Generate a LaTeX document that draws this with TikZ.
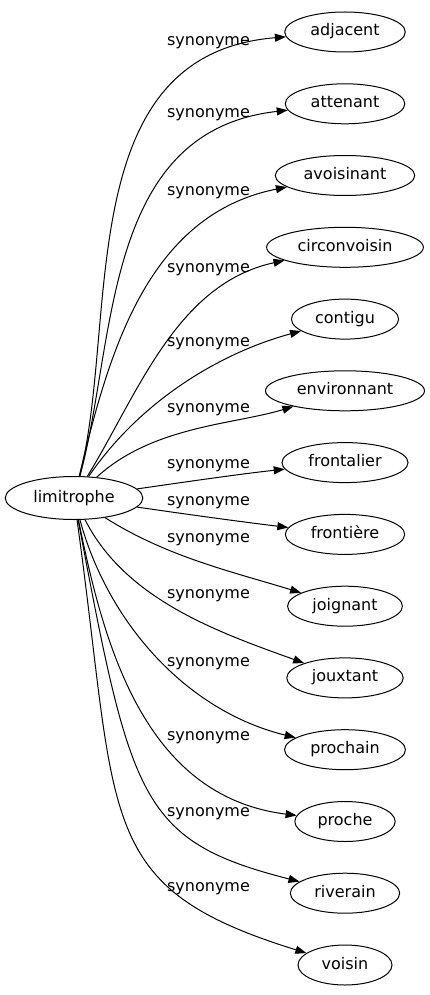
\documentclass[tikz,border=0pt]{standalone}
\usepackage{fontspec}
\setmainfont{DejaVu Sans}
\usetikzlibrary{arrows.meta,shapes.geometric}
\begin{document}
\begin{tikzpicture}[x=1pt,y=-1pt,
  every node/.style={font=\fontsize{16}{19}\selectfont},
  term/.style={draw, ellipse, line width=1pt, inner xsep=8pt, inner ysep=0pt,
    minimum height=40pt, text height=12pt, text depth=4pt},
  rel/.style={inner sep=0pt},
  link/.style={line width=1pt, -{Triangle[length=11pt,width=8pt]}}]
\useasboundingbox (0,0) rectangle (429,995);
\node[term, minimum height=43pt] (l) at (74,498) {limitrophe};
\node[term] (n1)  at (345,32)    {adjacent};
\node[term] (n2)  at (345,103.8) {attenant};
\node[term] (n3)  at (345,175.5) {avoisinant};
\node[term] (n4)  at (345,247.3) {circonvoisin};
\node[term] (n5)  at (345,319.1) {contigu};
\node[term] (n6)  at (345,390.8) {environnant};
\node[term] (n7)  at (345,462.6) {frontalier};
\node[term] (n8)  at (345,534.4) {frontière};
\node[term] (n9)  at (345,606.2) {joignant};
\node[term] (n10) at (345,677.9) {jouxtant};
\node[term] (n11) at (345,749.7) {prochain};
\node[term] (n12) at (345,821.5) {proche};
\node[term] (n13) at (345,893.2) {riverain};
\node[term, minimum width=94pt] (n14) at (345,965) {voisin};
\node[rel] (s1)  at (208.5,42.5)  {synonyme};
\node[rel] (s2)  at (208.5,115)   {synonyme};
\node[rel] (s3)  at (208.5,193)   {synonyme};
\node[rel] (s4)  at (208.5,269.5) {synonyme};
\node[rel] (s5)  at (208.5,343.5) {synonyme};
\node[rel] (s6)  at (208.5,410)   {synonyme};
\node[rel] (s7)  at (208.5,465.5) {synonyme};
\node[rel] (s8)  at (208.5,502.5) {synonyme};
\node[rel] (s9)  at (208.5,540)   {synonyme};
\node[rel] (s10) at (208.5,595.5) {synonyme};
\node[rel] (s11) at (208.5,664)   {synonyme};
\node[rel] (s12) at (208.5,738)   {synonyme};
\node[rel] (s13) at (208.5,814)   {synonyme};
\node[rel] (s14) at (208.5,888.5) {synonyme};
\draw[link] (l) .. controls (119,322) and (70,54.5) .. (n1);
\draw[link] (l) .. controls (116.5,341) and (102,131) .. (n2);
\draw[link] (l) .. controls (108,356) and (146,215) .. (n3);
\draw[link] (l) .. controls (138,394) and (176,284) .. (n4);
\draw[link] (l) .. controls (139,402.5) and (218,353.5) .. (n5);
\draw[link] (l) .. controls (152.5,426) and (234,424.5) .. (n6);
\draw[link] (l) .. controls (185,482) and (240,474) .. (n7);
\draw[link] (l) .. controls (185,514) and (235,521) .. (n8);
\draw[link] (l) .. controls (166.6,556.6) and (231,571.4) .. (n9);
\draw[link] (l) .. controls (125.8,600) and (218.7,632.3) .. (n10);
\draw[link] (l) .. controls (107.7,622) and (185.8,710.8) .. (n11);
\draw[link] (l) .. controls (103.6,644) and (143.6,796.3) .. (n12);
\draw[link] (l) .. controls (131,800) and (140,841) .. (n13);
\draw[link] (l) .. controls (119,822) and (93,887) .. (n14);
\end{tikzpicture}
\end{document}
